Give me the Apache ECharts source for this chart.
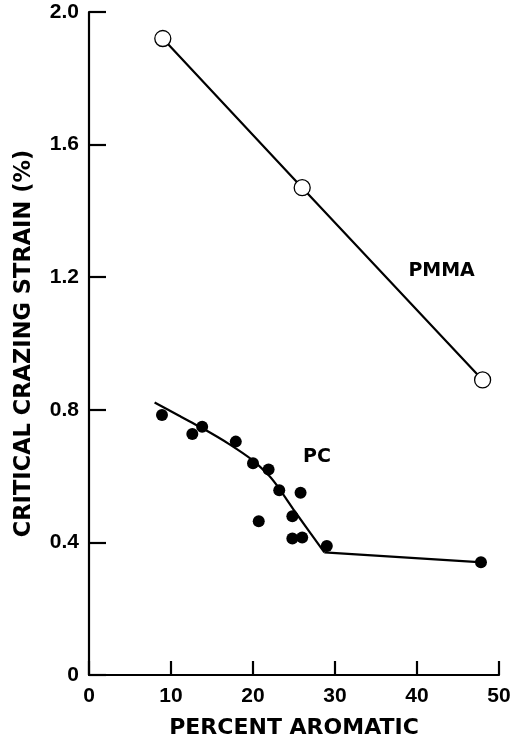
<!DOCTYPE html>
<html>
<head>
<meta charset="utf-8">
<script src="https://cdn.jsdelivr.net/npm/echarts@6/dist/echarts.min.js"></script>
<style>
  html, body { margin: 0; padding: 0; background: #fff; }
  #chart { width: 515px; height: 744px; }
</style>
</head>
<body>
<div id="chart"></div>
<script>
// PMMA: open circles joined by a straight line
const pmmaX = [9, 26, 48]
const pmmaY = [1.92, 1.47, 0.89]

// PC: measured points (filled)
const pcX = [8.9, 12.6, 13.8, 17.9, 20.0, 21.9, 23.2, 25.8, 20.7, 24.8, 24.8, 26.0, 29.0, 47.8]
const pcY = [0.784, 0.727, 0.749, 0.704, 0.639, 0.620, 0.557, 0.550, 0.464, 0.479, 0.412, 0.415, 0.389, 0.340]

// PC: hand-drawn trend, curved part then straight tail
const pcCurveX = [8, 11, 14, 17, 20, 22, 23.2, 25, 28.7]
const pcCurveY = [0.822, 0.782, 0.742, 0.698, 0.647, 0.600, 0.562, 0.497, 0.37]
const pcTailX = [28.7, 48]
const pcTailY = [0.37, 0.34]

// curve labels
const labelText = ['PMMA', 'PC']
const labelX = [43, 27.8]
const labelY = [1.22, 0.657]

const xTicks = [0, 10, 20, 30, 40, 50]
const yTicks = [0, 0.4, 0.8, 1.2, 1.6, 2.0]

const zip = (xs, ys) => xs.map((x, i) => [x, ys[i]])

const font = 'DejaVu Sans'
const tickFont = 'Liberation Sans'
const chart = echarts.init(document.getElementById('chart'), null, {renderer: 'canvas'})

const option = {
    backgroundColor: '#fff',
    animation: false,
    grid: {
        left: 89,
        right: 16,
        top: 12,
        bottom: 65
    },
    xAxis: {
        type: 'value',
        min: xTicks[0],
        max: xTicks[xTicks.length - 1],
        interval: 10,
        name: 'PERCENT AROMATIC',
        nameLocation: 'middle',
        nameGap: 42,
        nameTextStyle: {
            color: '#000',
            fontFamily: font,
            fontWeight: 'bold',
            fontSize: 22
        },
        axisLine: {lineStyle: {color: '#000', width: 2.2}},
        axisTick: {inside: true, length: 14, lineStyle: {color: '#000', width: 2.2}},
        axisLabel: {
            color: '#000',
            fontFamily: tickFont,
            fontWeight: 'bold',
            fontSize: 21,
            margin: 11
        },
        splitLine: {show: false}
    },
    yAxis: {
        type: 'value',
        min: yTicks[0],
        max: yTicks[yTicks.length - 1],
        interval: 0.4,
        name: 'CRITICAL CRAZING STRAIN (%)',
        nameLocation: 'middle',
        nameGap: 53,
        nameTextStyle: {
            color: '#000',
            fontFamily: font,
            fontWeight: 'bold',
            fontSize: 22.5
        },
        axisLine: {lineStyle: {color: '#000', width: 2.2}},
        axisTick: {inside: true, length: 17, lineStyle: {color: '#000', width: 2.2}},
        axisLabel: {
            color: '#000',
            fontFamily: tickFont,
            fontWeight: 'bold',
            fontSize: 21,
            margin: 10,
            formatter: v => v === 0 ? '0' : v.toFixed(1)
        },
        splitLine: {show: false}
    },
    series: [{
        name: 'PMMA',
        type: 'line',
        data: zip(pmmaX, pmmaY),
        symbol: 'circle',
        symbolSize: 16,
        showAllSymbol: true,
        lineStyle: {color: '#000', width: 2.2},
        itemStyle: {color: '#fff', borderColor: '#000', borderWidth: 1.3, opacity: 1},
        z: 3
    }, {
        name: 'PC curve',
        type: 'line',
        data: zip(pcCurveX, pcCurveY),
        symbol: 'none',
        smooth: 0.15,
        lineStyle: {color: '#000', width: 2.2},
        z: 2
    }, {
        name: 'PC tail',
        type: 'line',
        data: zip(pcTailX, pcTailY),
        symbol: 'none',
        lineStyle: {color: '#000', width: 2.2},
        z: 2
    }, {
        name: 'PC',
        type: 'scatter',
        data: zip(pcX, pcY),
        symbol: 'circle',
        symbolSize: 12,
        itemStyle: {color: '#000', opacity: 1},
        z: 4
    }, {
        name: 'labels',
        type: 'scatter',
        data: labelText.map((t, i) => ({value: [labelX[i], labelY[i]], name: t})),
        symbolSize: 0,
        itemStyle: {opacity: 1},
        label: {
            show: true,
            position: 'inside',
            formatter: p => p.name,
            color: '#000',
            opacity: 1,
            fontFamily: font,
            fontWeight: 'bold',
            fontSize: 19
        },
        silent: true,
        z: 5
    }]
}
chart.setOption(option)
</script>
</body>
</html>
